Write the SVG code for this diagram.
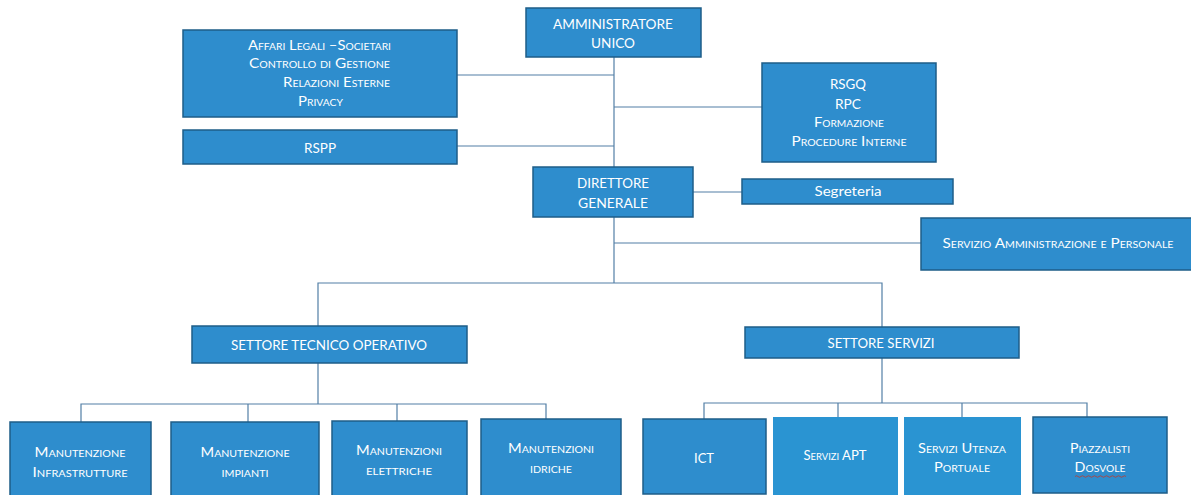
<svg xmlns="http://www.w3.org/2000/svg" width="1191" height="495" viewBox="0 0 1191 495">
<style>
.box{fill:#2e8dcd;stroke:#1e5d88;stroke-width:1.5}
.box2{fill:#2a94d2;stroke:none}
.ln{stroke:#527fa6;stroke-width:1.2;fill:none}
text{font-family:Lato,"Liberation Sans",sans-serif;fill:#ffffff;text-anchor:middle}
.u{font-size:14px}
.sc{font-size:13px;font-variant:small-caps}
.ss{font-size:12.5px;font-variant:small-caps}
</style>
<rect width="1191" height="495" fill="#ffffff"/>
<g id="connectors">
<path class="ln" d="M614 57V167"/>
<path class="ln" d="M457 75H614"/>
<path class="ln" d="M614 107H762"/>
<path class="ln" d="M457 146H614"/>
<path class="ln" d="M693 192H742"/>
<path class="ln" d="M614 217V283"/>
<path class="ln" d="M614 243H921"/>
<path class="ln" d="M318 327V283H882V327"/>
<path class="ln" d="M318 363V404"/>
<path class="ln" d="M81 422V404H546V419"/>
<path class="ln" d="M248 404V422"/>
<path class="ln" d="M397 404V421"/>
<path class="ln" d="M882 358V403"/>
<path class="ln" d="M704 419V403H1087V417"/>
<path class="ln" d="M838 403V417"/>
<path class="ln" d="M962 403V417"/>
</g>
<g id="amministratore">
<rect class="box" x="526" y="8" width="175" height="49"/>
<text class="u" x="613" y="29" font-size="13" textLength="120" lengthAdjust="spacingAndGlyphs">AMMINISTRATORE</text>
<text class="u" x="613" y="48" font-size="13" textLength="44" lengthAdjust="spacingAndGlyphs">UNICO</text>
</g>
<g id="affari">
<rect class="box" x="183" y="30" width="274" height="87"/>
<text class="sc" x="248" y="50" style="text-anchor:start" textLength="143" lengthAdjust="spacingAndGlyphs">Affari Legali –Societari</text>
<text class="sc" x="249" y="68" style="text-anchor:start" textLength="141" lengthAdjust="spacingAndGlyphs">Controllo di  Gestione</text>
<text class="sc" x="283" y="87" style="text-anchor:start" textLength="107" lengthAdjust="spacingAndGlyphs">Relazioni Esterne</text>
<text class="sc" x="298" y="106" style="text-anchor:start" textLength="45" lengthAdjust="spacingAndGlyphs">Privacy</text>
</g>
<g id="rspp">
<rect class="box" x="183" y="130" width="274" height="34"/>
<text class="u" x="320" y="153" font-size="13" textLength="32" lengthAdjust="spacingAndGlyphs">RSPP</text>
</g>
<g id="rsgq">
<rect class="box" x="762" y="63" width="174" height="99"/>
<text class="u" x="848" y="89" font-size="13" textLength="36" lengthAdjust="spacingAndGlyphs">RSGQ</text>
<text class="u" x="848" y="109" font-size="13" textLength="26" lengthAdjust="spacingAndGlyphs">RPC</text>
<text class="sc" x="849" y="127" textLength="70" lengthAdjust="spacingAndGlyphs">Formazione</text>
<text class="sc" x="849" y="146" textLength="115" lengthAdjust="spacingAndGlyphs">Procedure Interne</text>
</g>
<g id="direttore">
<rect class="box" x="533" y="167" width="160" height="50"/>
<text class="u" x="613" y="188" font-size="13" textLength="72" lengthAdjust="spacingAndGlyphs">DIRETTORE</text>
<text class="u" x="613" y="208" font-size="13" textLength="70" lengthAdjust="spacingAndGlyphs">GENERALE</text>
</g>
<g id="segreteria">
<rect class="box" x="742" y="179" width="211" height="25"/>
<text x="848" y="196" font-size="14" textLength="67" lengthAdjust="spacingAndGlyphs">Segreteria</text>
</g>
<g id="servizio-amm">
<rect class="box" x="921" y="218" width="272" height="52"/>
<text class="sc" x="1058" y="248" textLength="231" lengthAdjust="spacingAndGlyphs">Servizio Amministrazione e Personale</text>
</g>
<g id="settore-tecnico">
<rect class="box" x="192" y="326" width="275" height="37"/>
<text class="u" x="329" y="350" textLength="196" lengthAdjust="spacingAndGlyphs">SETTORE TECNICO OPERATIVO</text>
</g>
<g id="settore-servizi">
<rect class="box" x="745" y="327" width="274" height="31"/>
<text class="u" x="881" y="348" font-size="13" textLength="107" lengthAdjust="spacingAndGlyphs">SETTORE SERVIZI</text>
</g>
<g id="man-infrastrutture">
<rect class="box" x="10" y="422" width="141" height="76"/>
<text class="ss" x="80" y="457" textLength="91" lengthAdjust="spacingAndGlyphs">Manutenzione</text>
<text class="ss" x="80" y="477" textLength="95" lengthAdjust="spacingAndGlyphs">Infrastrutture</text>
</g>
<g id="man-impianti">
<rect class="box" x="171" y="422" width="148" height="76"/>
<text class="ss" x="245" y="457" textLength="89" lengthAdjust="spacingAndGlyphs">Manutenzione</text>
<text class="ss" x="245" y="477" textLength="47" lengthAdjust="spacingAndGlyphs">impianti</text>
</g>
<g id="man-elettriche">
<rect class="box" x="332" y="421" width="135" height="77"/>
<text class="ss" x="399" y="455" textLength="86" lengthAdjust="spacingAndGlyphs">Manutenzioni</text>
<text class="ss" x="399" y="475" textLength="66" lengthAdjust="spacingAndGlyphs">elettriche</text>
</g>
<g id="man-idriche">
<rect class="box" x="481" y="419" width="140" height="79"/>
<text class="ss" x="551" y="453" textLength="86" lengthAdjust="spacingAndGlyphs">Manutenzioni</text>
<text class="ss" x="551" y="473" textLength="42" lengthAdjust="spacingAndGlyphs">idriche</text>
</g>
<g id="ict">
<rect class="box" x="643" y="419" width="123" height="75"/>
<text class="u" x="704" y="463" font-size="13" textLength="20" lengthAdjust="spacingAndGlyphs">ICT</text>
</g>
<g id="servizi-apt">
<rect class="box2" x="773" y="417" width="125" height="78"/>
<text class="ss" x="835" y="460" textLength="63" lengthAdjust="spacingAndGlyphs">Servizi APT</text>
</g>
<g id="servizi-utenza">
<rect class="box2" x="904" y="417" width="117" height="78"/>
<text class="ss" x="962" y="453" textLength="88" lengthAdjust="spacingAndGlyphs">Servizi Utenza</text>
<text class="ss" x="962" y="472" textLength="56" lengthAdjust="spacingAndGlyphs">Portuale</text>
</g>
<g id="piazzalisti">
<rect class="box" x="1033" y="417" width="134" height="76"/>
<text class="ss" x="1100" y="453" textLength="60" lengthAdjust="spacingAndGlyphs">Piazzalisti</text>
<text class="ss" x="1100" y="472" textLength="51" lengthAdjust="spacingAndGlyphs">Dosvole</text>
<path d="M1075 476.5q1.5-1.5 3 0t3 0 3 0 3 0 3 0 3 0 3 0 3 0 3 0 3 0 3 0 3 0 3 0 3 0 3 0 3 0 3 0" fill="none" stroke="#c0392b" stroke-width="0.8"/>
</g>
</svg>
